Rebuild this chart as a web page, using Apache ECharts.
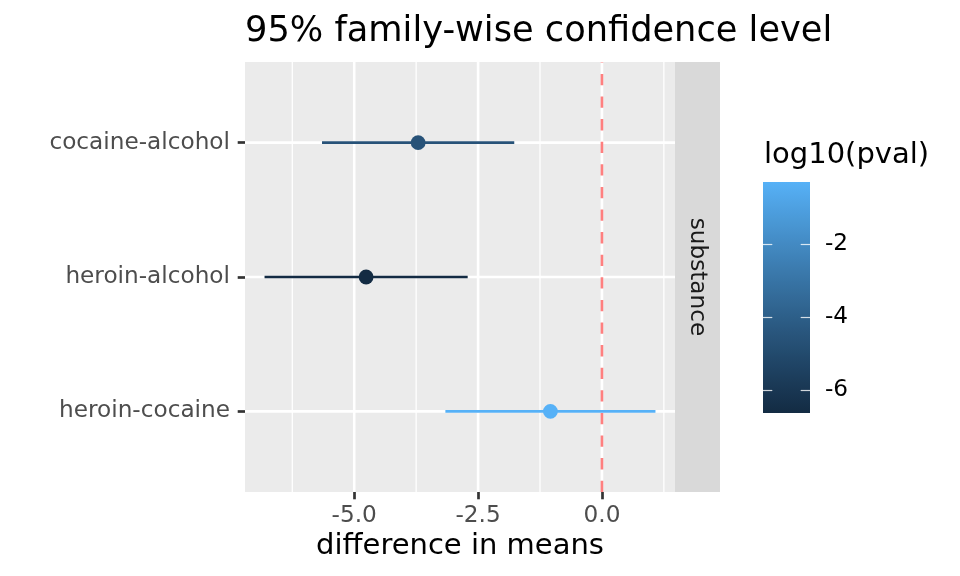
<!DOCTYPE html>
<html>
<head>
<meta charset="utf-8">
<script src="https://cdn.jsdelivr.net/npm/echarts@6/dist/echarts.min.js"></script>
<style>html,body{margin:0;padding:0;background:#fff}#c{width:960px;height:576px}</style>
</head>
<body>
<div id="c"></div>
<script>
// ---- data ----
const categories = ['cocaine-alcohol', 'heroin-alcohol', 'heroin-cocaine'];
const diff = [-3.71, -4.76, -1.04];
const lwr = [-5.65, -6.81, -3.16];
const upr = [-1.77, -2.71, 1.08];
const log10pval = [-4.6, -6.63, -0.305];
const xMajorTicks = [-5, -2.5, 0];
const xMinorTicks = [-6.25, -3.75, -1.25, 1.25];
const legendTicks = [-6, -4, -2];
const refLine = [0];

// ---- colour scale (ggplot2 default gradient, Lab interpolation) ----
function hex2rgb(h){return [1,3,5].map(i=>parseInt(h.slice(i,i+2),16));}
function s2l(c){c/=255;return c<=0.04045?c/12.92:Math.pow((c+0.055)/1.055,2.4);}
function l2s(c){const v=c<=0.0031308?12.92*c:1.055*Math.pow(c,1/2.4)-0.055;return Math.round(Math.max(0,Math.min(1,v))*255);}
function rgb2lab(rgb){const [r,g,b]=rgb.map(s2l);
  const X=(0.4124*r+0.3576*g+0.1805*b)/0.95047,Y=0.2126*r+0.7152*g+0.0722*b,Z=(0.0193*r+0.1192*g+0.9505*b)/1.08883;
  const f=t=>t>216/24389?Math.cbrt(t):(24389/27*t+16)/116;
  const fx=f(X),fy=f(Y),fz=f(Z);return [116*fy-16,500*(fx-fy),200*(fy-fz)];}
function lab2rgb(lab){const [L,a,b]=lab;const fy=(L+16)/116,fx=fy+a/500,fz=fy-b/200;
  const fi=t=>t*t*t>216/24389?t*t*t:(116*t-16)/(24389/27);
  const X=fi(fx)*0.95047,Y=fi(fy),Z=fi(fz)*1.08883;
  return [3.2406*X-1.5372*Y-0.4986*Z,-0.9689*X+1.8758*Y+0.0415*Z,0.0557*X-0.2040*Y+1.0570*Z].map(l2s);}
const labLow = rgb2lab(hex2rgb('#132B43')), labHigh = rgb2lab(hex2rgb('#56B1F7'));
function colAtT(t){const c=lab2rgb(labLow.map((v,i)=>v+(labHigh[i]-v)*t));return 'rgb('+c.join(',')+')';}
const pMin = Math.min(...log10pval), pMax = Math.max(...log10pval);
function colorFor(v){return colAtT((v-pMin)/(pMax-pMin));}
const gradStops = [];
for (let i=0;i<=30;i++){gradStops.push({offset:i/30,color:colAtT(i/30)});}

// ---- x scale range (5% expansion like ggplot) ----
const allX = lwr.concat(upr, refLine);
const xLo = Math.min(...allX), xHi = Math.max(...allX);
const xMin = xLo - 0.05*(xHi-xLo), xMax = xHi + 0.05*(xHi-xLo);
const yMin = -0.6, yMax = categories.length - 1 + 0.6;

const FONT = 'DejaVu Sans';
const rows = categories.map((c,i)=>[i, lwr[i], upr[i], diff[i], log10pval[i]]);
const catIdx = categories.map((c,i)=>i);

function vLines(width){
  return function(params, api){
    const v = api.value(0);
    const a = api.coord([v, yMin]), b = api.coord([v, yMax]);
    return {type:'line', shape:{x1:a[0],y1:a[1],x2:b[0],y2:b[1]}, style:{stroke:'#FFFFFF', lineWidth:width}};
  };
}

const chart = echarts.init(document.getElementById('c'), null, {renderer:'canvas'});
chart.setOption({
  animation:false,
  backgroundColor:'#FFFFFF',
  textStyle:{fontFamily:FONT},
  title:[
    {text:'95% family-wise confidence level', left:245, top:14, padding:0,
     textStyle:{fontFamily:FONT, fontSize:35.2, fontWeight:'normal', color:'#000000'}},
    {text:'log10(pval)', left:764, top:141, padding:0,
     textStyle:{fontFamily:FONT, fontSize:29, fontWeight:'normal', color:'#000000'}}
  ],
  grid:[
    {left:245, right:285, top:62, bottom:84, show:true, backgroundColor:'#EBEBEB', borderWidth:0},
    {left:763, width:47, top:182, height:231, show:false}
  ],
  xAxis:[
    {type:'value', gridIndex:0, min:xMin, max:xMax, position:'bottom',
     name:'difference in means', nameLocation:'middle', nameGap:39,
     nameTextStyle:{fontFamily:FONT, fontSize:29, color:'#000000'},
     axisLine:{show:false, onZero:false},
     axisTick:{show:true, customValues:xMajorTicks, length:7.3, lineStyle:{color:'#333333', width:2.7}},
     axisLabel:{show:true, customValues:xMajorTicks, margin:12, fontFamily:FONT, fontSize:23.2, color:'#4D4D4D',
                formatter:v=>Number(v).toFixed(1)},
     splitLine:{show:false}},
    {type:'value', gridIndex:1, min:0, max:1, show:false, axisLine:{onZero:false}}
  ],
  yAxis:[
    {type:'value', gridIndex:0, min:yMin, max:yMax, inverse:true, position:'left',
     axisLine:{show:false, onZero:false},
     axisTick:{show:true, customValues:catIdx, length:7.3, lineStyle:{color:'#333333', width:2.7}},
     axisLabel:{show:true, customValues:catIdx, margin:15, fontFamily:FONT, fontSize:23.2, color:'#4D4D4D',
                padding:[3,0,0,0], formatter:v=>categories[Math.round(v)]},
     splitLine:{show:false}},
    {type:'value', gridIndex:1, min:pMin, max:pMax, position:'right', z:10,
     axisLine:{show:false, onZero:false},
     axisTick:{show:true, inside:true, customValues:legendTicks, length:9.3, lineStyle:{color:'#FFFFFF', width:1.2, opacity:0.8}},
     axisLabel:{show:true, customValues:legendTicks, margin:15, fontFamily:FONT, fontSize:23.2, color:'#000000',
                padding:[5,0,0,0], formatter:v=>String(v)},
     splitLine:{show:false}},
    {type:'value', gridIndex:1, min:pMin, max:pMax, position:'left', z:10,
     axisLine:{show:false, onZero:false},
     axisTick:{show:true, inside:true, customValues:legendTicks, length:9.3, lineStyle:{color:'#FFFFFF', width:1.2, opacity:0.8}},
     axisLabel:{show:false},
     splitLine:{show:false}}
  ],
  graphic:[
    {type:'rect', left:675, top:62, shape:{width:45, height:430}, style:{fill:'#D9D9D9'}, z:0},
    {type:'text', x:697.5, y:277, rotation:-Math.PI/2,
     style:{text:'substance', fontFamily:FONT, fontSize:23.2, fill:'#1A1A1A', align:'center', verticalAlign:'middle'}}
  ],
  series:[
    {type:'custom', name:'minorgrid', xAxisIndex:0, yAxisIndex:0, z:1, silent:true, clip:true,
     data:xMinorTicks.map(v=>[v]), encode:{x:0}, renderItem:vLines(1.3)},
    {type:'custom', name:'majorgrid', xAxisIndex:0, yAxisIndex:0, z:1, silent:true, clip:true,
     data:xMajorTicks.map(v=>[v]), encode:{x:0}, renderItem:vLines(2.6)},
    {type:'custom', name:'hgrid', xAxisIndex:0, yAxisIndex:0, z:1, silent:true, clip:true,
     data:catIdx.map(i=>[i]), encode:{y:0},
     renderItem:function(params, api){
       const v = api.value(0);
       const a = api.coord([xMin, v]), b = api.coord([xMax, v]);
       return {type:'line', shape:{x1:a[0],y1:a[1],x2:b[0],y2:b[1]}, style:{stroke:'#FFFFFF', lineWidth:2.6}};
     }},
    {type:'custom', name:'vline', xAxisIndex:0, yAxisIndex:0, z:2, silent:true, clip:true,
     data:refLine.map(v=>[v]), encode:{x:0},
     renderItem:function(params, api){
       const v = api.value(0);
       const a = api.coord([v, yMax]), b = api.coord([v, yMin]);
       return {type:'line', shape:{x1:a[0],y1:a[1],x2:b[0],y2:b[1]},
               style:{stroke:'rgba(255,0,0,0.5)', lineWidth:2.6, lineDash:[11.3,11.3], lineDashOffset:0}};
     }},
    {type:'custom', name:'intervals', xAxisIndex:0, yAxisIndex:0, z:3, clip:false,
     data:rows, encode:{y:0, x:[1,2,3]},
     renderItem:function(params, api){
       const y = api.value(0);
       const p1 = api.coord([api.value(1), y]), p2 = api.coord([api.value(2), y]), pc = api.coord([api.value(3), y]);
       const col = colorFor(api.value(4));
       return {type:'group', children:[
         {type:'line', shape:{x1:p1[0],y1:p1[1],x2:p2[0],y2:p2[1]}, style:{stroke:col, lineWidth:2.7}},
         {type:'circle', shape:{cx:pc[0], cy:pc[1], r:7.4}, style:{fill:col}}
       ]};
     }},
    {type:'custom', name:'colorbar', xAxisIndex:1, yAxisIndex:1, z:2, silent:true,
     data:[[0, pMin, 1, pMax]], encode:{x:[0,2], y:[1,3]},
     renderItem:function(params, api){
       const a = api.coord([api.value(0), api.value(3)]), b = api.coord([api.value(2), api.value(1)]);
       return {type:'rect', shape:{x:a[0], y:a[1], width:b[0]-a[0], height:b[1]-a[1]},
               style:{fill:new echarts.graphic.LinearGradient(0,1,0,0,gradStops)}};
     }}
  ]
});
</script>
</body>
</html>
